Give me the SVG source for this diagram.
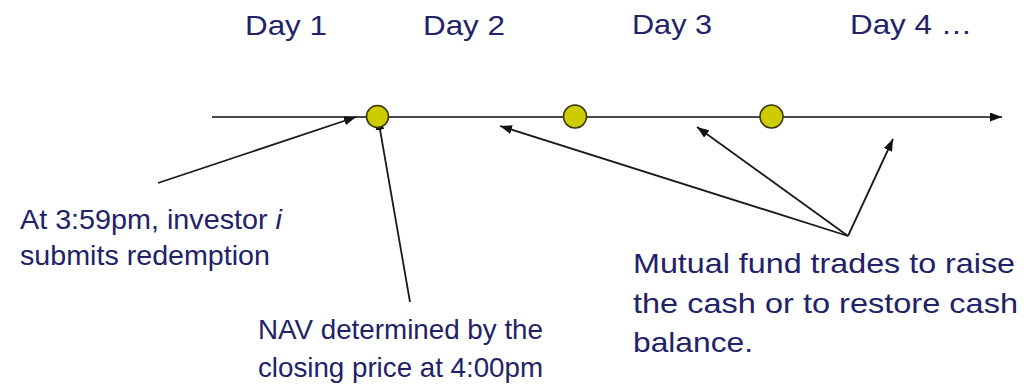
<svg xmlns="http://www.w3.org/2000/svg" width="1024" height="388" viewBox="0 0 1024 388">
<style>
.t{font-family:"Liberation Sans",Arial,sans-serif;font-size:28px;fill:#22226a}
.c{stroke:#1a1a1a;stroke-width:1.8;fill:none}
.dot{fill:#cccc00;stroke:#333300;stroke-width:1.5}
</style>
<defs>
<marker id="ah" viewBox="0 0 10 10" refX="10" refY="5" markerWidth="7" markerHeight="6" markerUnits="userSpaceOnUse" orient="auto" preserveAspectRatio="none">
<path d="M0,0 L10,5 L0,10 Z" fill="#111"/>
</marker>
<marker id="ah2" viewBox="0 0 10 10" refX="10" refY="5" markerWidth="12" markerHeight="9" markerUnits="userSpaceOnUse" orient="auto" preserveAspectRatio="none">
<path d="M0,0 L10,5 L0,10 Z" fill="#111"/>
</marker>
</defs>
<g id="labels-days">
<text class="t" x="245" y="35" textLength="82" lengthAdjust="spacingAndGlyphs">Day 1</text>
<text class="t" x="423" y="35" textLength="82" lengthAdjust="spacingAndGlyphs">Day 2</text>
<text class="t" x="632" y="34" textLength="80" lengthAdjust="spacingAndGlyphs">Day 3</text>
<text class="t" x="850" y="34" textLength="122" lengthAdjust="spacingAndGlyphs">Day 4 …</text>
</g>
<g id="timeline">
<line class="c" x1="212" y1="117" x2="1002" y2="117" stroke="#444" marker-end="url(#ah2)" style="stroke:#4a4a4a"/>
</g>
<g id="connectors">
<line class="c" x1="158" y1="183" x2="356" y2="117" marker-end="url(#ah2)"/>
<line class="c" x1="410" y1="302" x2="378" y2="118" marker-end="url(#ah2)"/>
<line class="c" x1="848" y1="236" x2="500" y2="126" marker-end="url(#ah2)"/>
<line class="c" x1="848" y1="236" x2="697" y2="127" marker-end="url(#ah2)"/>
<line class="c" x1="848" y1="236" x2="893" y2="139" marker-end="url(#ah2)"/>
</g>
<g id="day1-dot"><circle class="dot" cx="377.5" cy="116.5" r="11"/></g>
<g id="day2-dot"><circle class="dot" cx="575" cy="116.5" r="11.5"/></g>
<g id="day3-dot"><circle class="dot" cx="771.5" cy="116.5" r="11.5"/></g>
<g id="redemption-note">
<text class="t" x="20" y="229" textLength="262" lengthAdjust="spacingAndGlyphs">At 3:59pm, investor <tspan font-style="italic">i</tspan></text>
<text class="t" x="20" y="265" textLength="250" lengthAdjust="spacingAndGlyphs">submits redemption</text>
</g>
<g id="nav-note">
<text class="t" x="258" y="339" textLength="285" lengthAdjust="spacingAndGlyphs">NAV determined by the</text>
<text class="t" x="258" y="377" textLength="285" lengthAdjust="spacingAndGlyphs">closing price at 4:00pm</text>
</g>
<g id="fund-note">
<text class="t" x="633" y="273" textLength="382" lengthAdjust="spacingAndGlyphs">Mutual fund trades to raise</text>
<text class="t" x="633" y="313" textLength="385" lengthAdjust="spacingAndGlyphs">the cash or to restore cash</text>
<text class="t" x="633" y="352" textLength="120" lengthAdjust="spacingAndGlyphs">balance.</text>
</g>
</svg>
